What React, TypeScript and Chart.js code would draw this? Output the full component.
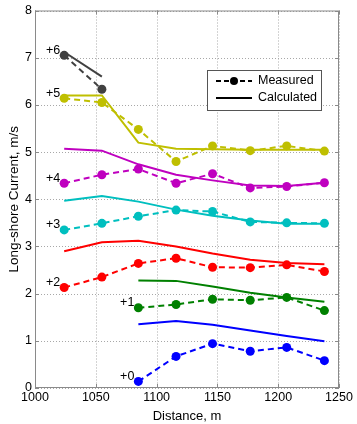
import React, { useEffect, useRef } from "react";
import { Chart, registerables } from "chart.js";

Chart.register(...registerables);

const distance = [1024, 1055, 1085, 1116, 1146, 1177, 1207, 1238];
const xTicks = [1000, 1050, 1100, 1150, 1200, 1250];
const yTicks = [0, 1, 2, 3, 4, 5, 6, 7, 8];

const measured0 = [null, null, 0.14, 0.67, 0.94, 0.78, 0.86, 0.58];
const calculated0 = [null, null, 1.35, 1.42, 1.34, 1.22, 1.1, 0.99];
const measured1 = [null, null, 1.7, 1.77, 1.88, 1.86, 1.92, 1.64];
const calculated1 = [null, null, 2.28, 2.27, 2.15, 2.02, 1.92, 1.83];
const measured2 = [2.13, 2.35, 2.64, 2.75, 2.56, 2.55, 2.61, 2.47];
const calculated2 = [2.9, 3.09, 3.12, 3.0, 2.85, 2.72, 2.65, 2.62];
const measured3 = [3.35, 3.49, 3.64, 3.77, 3.74, 3.52, 3.5, 3.49];
const calculated3 = [3.97, 4.07, 3.95, 3.78, 3.65, 3.55, 3.48, 3.48];
const measured4 = [4.34, 4.52, 4.64, 4.34, 4.54, 4.24, 4.27, 4.35];
const calculated4 = [5.07, 5.03, 4.74, 4.52, 4.4, 4.29, 4.28, 4.35];
const measured5 = [6.14, 6.05, 5.48, 4.8, 5.13, 5.03, 5.13, 5.02];
const calculated5 = [6.2, 6.2, 5.2, 5.07, 5.06, 5.05, 5.05, 5.05];
const measured6 = [7.05, 6.33, null, null, null, null, null, null];
const calculated6 = [7.12, 6.6, null, null, null, null, null, null];

const offsetLabels = ["+0", "+1", "+2", "+3", "+4", "+5", "+6"];
const colors = ["#0000ff", "#008000", "#ff0000", "#00bfbf", "#bf00bf", "#bfbf00", "#404040"];
const measuredSeries = [measured0, measured1, measured2, measured3, measured4, measured5, measured6];
const calculatedSeries = [calculated0, calculated1, calculated2, calculated3, calculated4, calculated5, calculated6];

const FONT = "'Liberation Sans', Arial, sans-serif";

function toPoints(vals: (number | null)[]) {
  const pts: { x: number; y: number }[] = [];
  vals.forEach((v, i) => {
    if (v !== null) pts.push({ x: distance[i], y: v });
  });
  return pts;
}

const gridPlugin = {
  id: "dottedGrid",
  beforeDatasetsDraw(chart: any) {
    const { ctx, chartArea, scales } = chart;
    ctx.save();
    ctx.strokeStyle = "#a8a8a8";
    ctx.lineWidth = 1;
    ctx.setLineDash([1, 2]);
    ctx.beginPath();
    xTicks.forEach((t) => {
      const px = Math.round(scales.x.getPixelForValue(t)) + 0.5;
      ctx.moveTo(px, chartArea.top);
      ctx.lineTo(px, chartArea.bottom);
    });
    yTicks.forEach((t) => {
      const py = Math.round(scales.y.getPixelForValue(t)) + 0.5;
      ctx.moveTo(chartArea.left, py);
      ctx.lineTo(chartArea.right, py);
    });
    ctx.stroke();
    ctx.restore();
  },
};

const decorPlugin = {
  id: "decor",
  afterDatasetsDraw(chart: any) {
    const { ctx, chartArea, scales } = chart;
    const xs = scales.x;
    const ys = scales.y;
    ctx.save();
    ctx.strokeStyle = "#8a8a8a";
    ctx.lineWidth = 1;
    ctx.setLineDash([]);
    ctx.strokeRect(chartArea.left + 0.5, chartArea.top + 0.5, chartArea.right - chartArea.left - 1, chartArea.bottom - chartArea.top - 1);
    ctx.beginPath();
    xTicks.forEach((t) => {
      const px = Math.round(xs.getPixelForValue(t)) + 0.5;
      ctx.moveTo(px, chartArea.bottom);
      ctx.lineTo(px, chartArea.bottom - 4);
      ctx.moveTo(px, chartArea.top);
      ctx.lineTo(px, chartArea.top + 4);
    });
    yTicks.forEach((t) => {
      const py = Math.round(ys.getPixelForValue(t)) + 0.5;
      ctx.moveTo(chartArea.left, py);
      ctx.lineTo(chartArea.left + 4, py);
      ctx.moveTo(chartArea.right, py);
      ctx.lineTo(chartArea.right - 4, py);
    });
    ctx.stroke();

    ctx.fillStyle = "#000";
    ctx.font = `12.5px ${FONT}`;
    ctx.textAlign = "right";
    ctx.textBaseline = "middle";
    measuredSeries.forEach((s, k) => {
      const i = s.findIndex((v) => v !== null);
      const px = xs.getPixelForValue(distance[i]);
      const py = ys.getPixelForValue(s[i] as number);
      ctx.fillText(offsetLabels[k], px - 4, py - 5);
    });

    const lx = 207, ly = 70, lw = 114, lh = 40;
    ctx.fillStyle = "#fff";
    ctx.fillRect(lx, ly, lw, lh);
    ctx.strokeStyle = "#555";
    ctx.lineWidth = 1;
    ctx.strokeRect(lx + 0.5, ly + 0.5, lw, lh);
    ctx.strokeStyle = "#000";
    ctx.lineWidth = 2;
    ctx.setLineDash([5, 3]);
    ctx.beginPath();
    ctx.moveTo(216, 81);
    ctx.lineTo(252, 81);
    ctx.stroke();
    ctx.setLineDash([]);
    ctx.fillStyle = "#000";
    ctx.beginPath();
    ctx.arc(234, 81, 4, 0, Math.PI * 2);
    ctx.fill();
    ctx.beginPath();
    ctx.moveTo(216, 98);
    ctx.lineTo(252, 98);
    ctx.stroke();
    ctx.textAlign = "left";
    ctx.fillText("Measured", 258, 81);
    ctx.fillText("Calculated", 258, 98);
    ctx.restore();
  },
};

export default function App() {
  const ref = useRef<HTMLCanvasElement>(null);
  useEffect(() => {
    if (!ref.current) return;
    const datasets: any[] = [];
    for (let k = 0; k < 7; k++) {
      datasets.push({
        label: "Calculated " + offsetLabels[k],
        data: toPoints(calculatedSeries[k]),
        borderColor: colors[k],
        backgroundColor: colors[k],
        borderWidth: 2,
        pointRadius: 0,
        tension: 0,
      });
      datasets.push({
        label: "Measured " + offsetLabels[k],
        data: toPoints(measuredSeries[k]),
        borderColor: colors[k],
        backgroundColor: colors[k],
        borderWidth: 2,
        borderDash: [6, 4],
        pointRadius: 4.5,
        pointBorderWidth: 0,
        tension: 0,
      });
    }
    const chart = new Chart(ref.current, {
      type: "line",
      data: { datasets },
      plugins: [gridPlugin, decorPlugin],
      options: {
        animation: false,
        responsive: false,
        maintainAspectRatio: false,
        layout: { padding: { left: 0, top: 8, right: 18, bottom: 0 } },
        plugins: { legend: { display: false }, tooltip: { enabled: false } },
        scales: {
          x: {
            type: "linear",
            min: 1000,
            max: 1250,
            afterBuildTicks: (s: any) => {
              s.ticks = xTicks.map((v) => ({ value: v }));
            },
            afterFit: (s: any) => {
              s.height = 36;
            },
            ticks: {
              color: "#000",
              font: { family: FONT, size: 12.5 },
              padding: 2,
              maxRotation: 0,
              callback: (v: any) => String(v),
            },
            grid: { display: false, drawTicks: false, tickLength: 0 },
            border: { display: false },
            title: { display: true, text: "Distance, m", color: "#000", font: { family: FONT, size: 13 }, padding: { top: 0, bottom: 0 } },
          },
          y: {
            type: "linear",
            min: 0,
            max: 8,
            afterBuildTicks: (s: any) => {
              s.ticks = yTicks.map((v) => ({ value: v }));
            },
            afterFit: (s: any) => {
              s.width = 35;
            },
            ticks: { color: "#000", font: { family: FONT, size: 12.5 }, padding: 3, callback: (v: any) => String(v) },
            grid: { display: false, drawTicks: false, tickLength: 0 },
            border: { display: false },
            title: { display: true, text: "Long-shore Current, m/s", color: "#000", font: { family: FONT, size: 13.5 }, padding: { top: 6, bottom: 0 } },
          },
        },
      } as any,
    });
    return () => chart.destroy();
  }, []);
  return (
    <div style={{ position: "absolute", left: 0, top: 0, width: 357, height: 424, background: "#fff" }}>
      <canvas ref={ref} width={357} height={424} style={{ width: 357, height: 424 }} />
    </div>
  );
}
